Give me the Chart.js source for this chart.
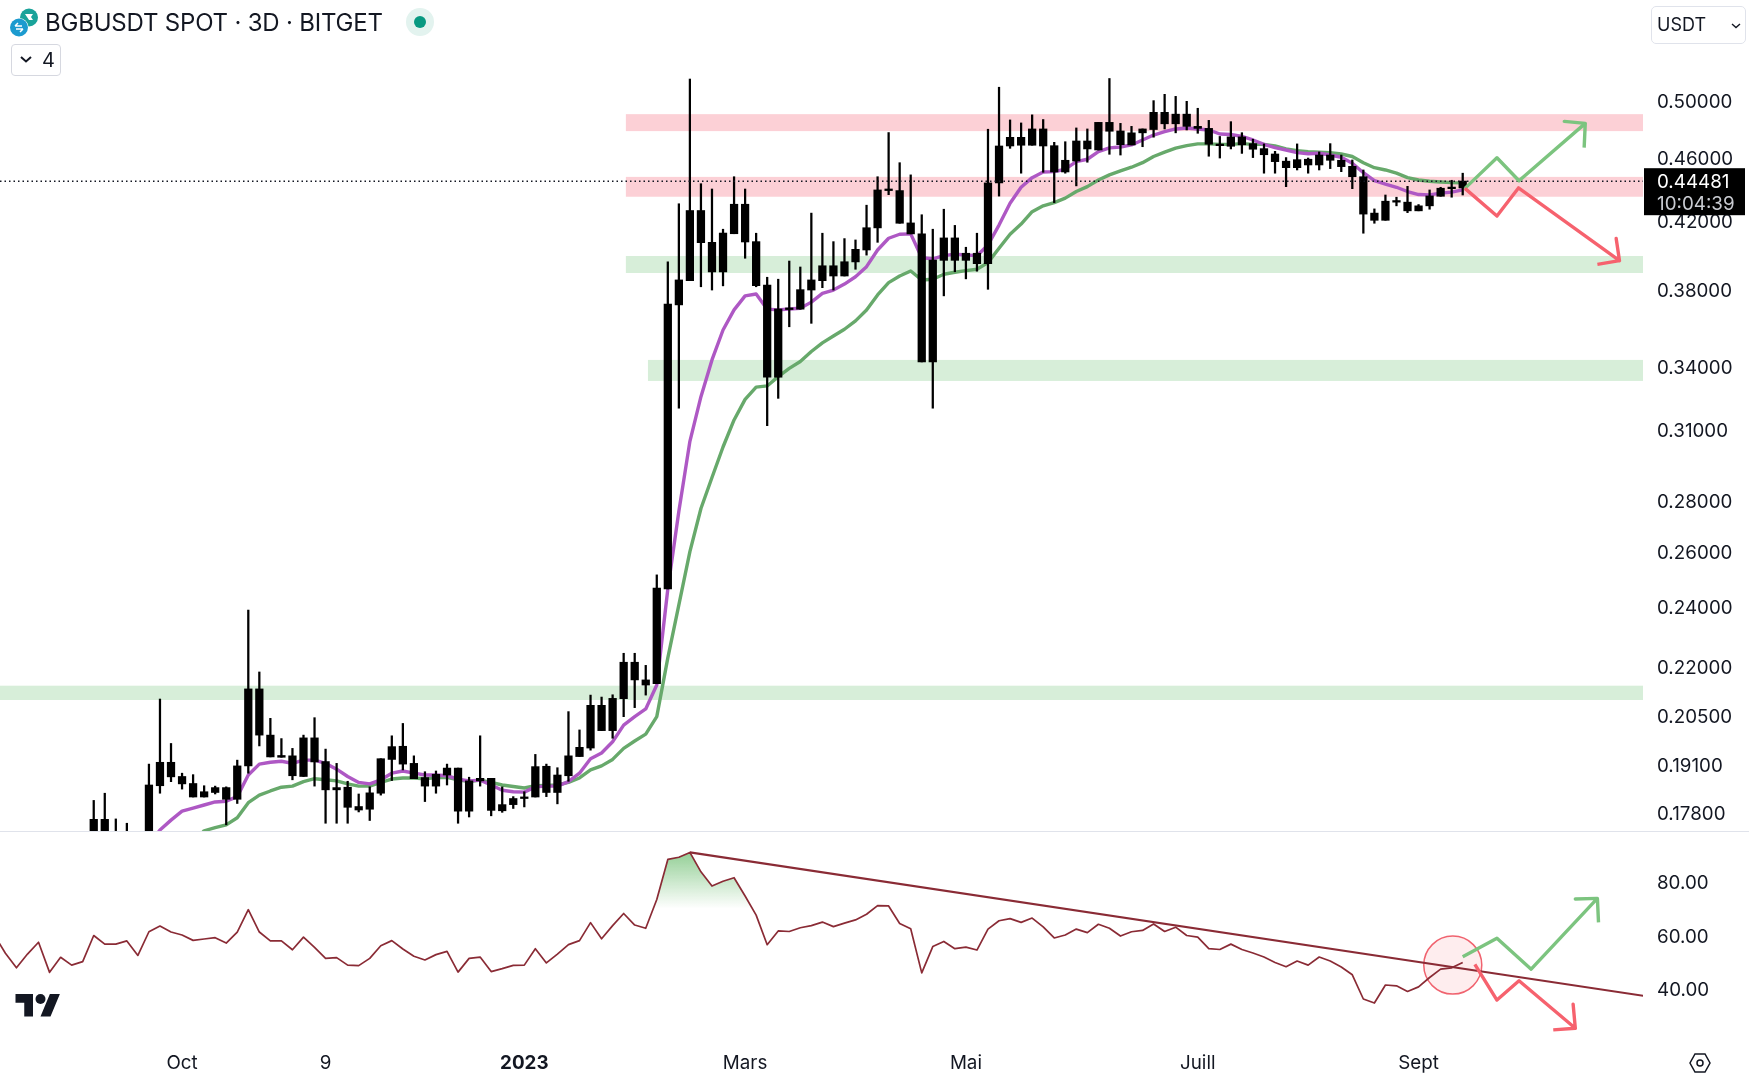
<!DOCTYPE html>
<html lang="fr">
<head>
<meta charset="utf-8">
<title>BGBUSDT SPOT 3D</title>
<script src="https://cdn.jsdelivr.net/npm/chart.js@4"></script>
<style>
    html, body { margin: 0; padding: 0; background: #fff; }
    body { position: relative; width: 1749px; height: 1080px; overflow: hidden; font-family: Inter, "Noto Sans", sans-serif; color: #131722; }
    canvas { position: absolute; left: 0; }
    #price-chart { top: 0; }
    #rsi-chart { top: 832px; }
    #separator { position: absolute; left: 0; top: 831px; width: 1749px; height: 1px; background: #e0e3eb; }
    #title { position: absolute; left: 45px; top: 8px; font-size: 24px; line-height: 30px; white-space: nowrap; letter-spacing: -0.2px; }
    #logos, #status, #logo-tv, #gear { position: absolute; }
    #logos { left: 8px; top: 6px; }
    #status { left: 406px; top: 8px; }
    #badge { position: absolute; left: 11px; top: 44px; width: 48px; height: 30px; border: 1px solid #d6d8e0; border-radius: 4px; font-size: 20px; line-height: 30px; }
    #badge span { position: absolute; left: 30px; }
    #badge svg { position: absolute; left: 7px; top: 10px; }
    #currency { position: absolute; left: 1651px; top: 6px; width: 93px; height: 36px; border: 1px solid #e0e3eb; border-radius: 5px; font-size: 18px; line-height: 36px; }
    #currency span { position: absolute; left: 5px; }
    #currency svg { position: absolute; left: 78px; top: 15px; }
    #logo-tv { left: 15px; top: 994px; }
    #gear { left: 1688px; top: 1051px; }
</style>
</head>
<body>
<canvas id="price-chart" width="1749" height="831"></canvas>
<div id="separator"></div>
<canvas id="rsi-chart" width="1749" height="248"></canvas>

<svg id="logos" width="34" height="32" viewBox="0 0 34 32">
    <circle cx="21" cy="11.5" r="9" fill="#1aa39a"/>
    <path d="M17 8h8l-2 3 2 3h-4z" fill="#fff"/>
    <circle cx="11" cy="21.5" r="9.5" fill="#fff"/>
    <circle cx="11" cy="21.5" r="9" fill="#1c9bcf"/>
    <path d="M7 20l3-3M7 20h7M15 23l-3 3M15 23H8" stroke="#fff" stroke-width="1.5" fill="none"/>
</svg>
<div id="title">BGBUSDT SPOT · 3D · BITGET</div>
<svg id="status" width="28" height="28" viewBox="0 0 28 28">
    <circle cx="14" cy="14" r="14" fill="#e3f3ef"/>
    <circle cx="14" cy="14" r="6" fill="#089981"/>
</svg>
<div id="badge">
    <svg width="14" height="9" viewBox="0 0 14 9"><path d="M2 2l5 4.5L12 2" stroke="#131722" stroke-width="2" fill="none"/></svg>
    <span>4</span>
</div>
<div id="currency">
    <span>USDT</span>
    <svg width="12" height="8" viewBox="0 0 12 8"><path d="M2 2l4 3.5L10 2" stroke="#131722" stroke-width="1.4" fill="none"/></svg>
</div>
<svg id="logo-tv" width="46" height="25" viewBox="0 0 36 20">
    <path d="M14 18H7V7H0V0h14zM28 18h-8l7.5-18h8z" fill="#131722"/>
    <circle cx="20" cy="4" r="4" fill="#131722"/>
</svg>
<svg id="gear" width="24" height="24" viewBox="0 0 24 24">
    <path d="M7 3h10l5 9-5 9H7l-5-9z" fill="none" stroke="#131722" stroke-width="1.5"/>
    <circle cx="12" cy="12" r="3" fill="none" stroke="#131722" stroke-width="1.5"/>
</svg>

<script>
// Bougies 3D, index 0 = première bougie visible
const wickHigh = [
    .1813,.1832,.1765,.1754,.1725,.1911,.2100,.1969,.1886,.1882,
    .1852,.1851,.1849,.1922,.2389,.2184,.2042,.1983,.1955,.1993,
    .2044,.1953,.1913,.1864,.1830,.1849,.1926,.1991,.2027,.1934,
    .1890,.1892,.1911,.1900,.1875,.1991,.1872,.1849,.1823,.1836,
    .1938,.1911,.1901,.2062,.2008,.2112,.2106,.2113,.2244,.2244,
    .2205,.2514,.3957,.4305,.5158,.4432,.4398,.4149,.4477,.4398,
    .4125,.3870,.3859,.3962,.3928,.4247,.4125,.4075,.4093,.4085,
    .4296,.4477,.4773,.4569,.4489,.4237,.4149,.4271,.4172,.4042,
    .4125,.4796,.5097,.4861,.4840,.4897,.4864,.4706,.4710,.4805,
    .4798,.4844,.5162,.4837,.4816,.4798,.4999,.5045,.5030,.4994,
    .4944,.4858,.4746,.4849,.4772,.4727,.4695,.4645,.4603,.4695,
    .4600,.4641,.4697,.4620,.4587,.4521,.4273,.4360,.4346,.4415,
    .4300,.4392,.4409,.4454,.4500
];
const bodyTop = [
    .1764,.1764,.1724,.1720,.1700,.1854,.1916,.1916,.1877,.1858,
    .1836,.1847,.1847,.1906,.2131,.2131,.1993,.1935,.1934,.1985,
    .1985,.1918,.1847,.1848,.1797,.1833,.1926,.1960,.1961,.1913,
    .1874,.1883,.1900,.1900,.1865,.1872,.1872,.1802,.1818,.1822,
    .1904,.1905,.1881,.1934,.1958,.2081,.2081,.2102,.2215,.2215,
    .2159,.2466,.3722,.3855,.4263,.4263,.4071,.4126,.4302,.4302,
    .4075,.3827,.3696,.3700,.3801,.3855,.3935,.3935,.3958,.4030,
    .4158,.4392,.4394,.4388,.4187,.4121,.3968,.4097,.4097,.4007,
    .4007,.4437,.4681,.4740,.4740,.4798,.4798,.4683,.4585,.4715,
    .4715,.4844,.4844,.4784,.4771,.4798,.4915,.4915,.4902,.4902,
    .4816,.4802,.4690,.4743,.4743,.4697,.4663,.4627,.4579,.4589,
    .4592,.4620,.4620,.4585,.4545,.4477,.4247,.4321,.4321,.4315,
    .4292,.4354,.4403,.4409,.4449
];
const bodyBottom = [
    .1712,.1712,.1700,.1700,.1690,.1712,.1852,.1876,.1857,.1822,
    .1822,.1834,.1816,.1816,.1906,.1993,.1931,.1930,.1879,.1877,
    .1917,.1841,.1841,.1795,.1788,.1790,.1832,.1924,.1911,.1871,
    .1851,.1851,.1881,.1785,.1785,.1865,.1787,.1786,.1802,.1818,
    .1822,.1834,.1834,.1879,.1932,.1956,.2006,.2006,.2101,.2159,
    .2143,.2147,.2463,.3718,.3851,.4069,.3900,.3900,.4122,.4073,
    .3823,.3348,.3348,.3693,.3695,.3799,.3851,.3877,.3877,.3957,
    .4026,.4157,.4388,.4185,.4121,.3423,.3423,.3966,.3966,.3966,
    .3947,.3947,.4437,.4681,.4686,.4686,.4681,.4508,.4508,.4580,
    .4661,.4654,.4782,.4690,.4688,.4771,.4794,.4834,.4834,.4816,
    .4802,.4693,.4683,.4679,.4689,.4659,.4622,.4576,.4536,.4536,
    .4554,.4554,.4585,.4543,.4477,.4241,.4203,.4203,.4315,.4261,
    .4261,.4292,.4352,.4400,.4405
];
const wickLow = [
    .1700,.1700,.1690,.1680,.1680,.1700,.1832,.1863,.1843,.1822,
    .1822,.1830,.1750,.1805,.1886,.1962,.1931,.1930,.1868,.1877,
    .1851,.1754,.1754,.1754,.1783,.1761,.1827,.1866,.1895,.1871,
    .1810,.1832,.1854,.1754,.1770,.1851,.1773,.1782,.1792,.1796,
    .1822,.1823,.1804,.1864,.1932,.1950,.2006,.1984,.2047,.2074,
    .2112,.2147,.2463,.3201,.3851,.3817,.3799,.3822,.4122,.3978,
    .3817,.3121,.3247,.3602,.3695,.3620,.3812,.3799,.3877,.3915,
    .3996,.4071,.4362,.4185,.4121,.3423,.3201,.3767,.3901,.3861,
    .3904,.3803,.4353,.4665,.4500,.4686,.4506,.4312,.4500,.4418,
    .4572,.4654,.4625,.4620,.4688,.4676,.4741,.4798,.4771,.4791,
    .4768,.4612,.4600,.4661,.4631,.4603,.4500,.4500,.4413,.4521,
    .4500,.4521,.4530,.4510,.4400,.4125,.4185,.4203,.4292,.4250,
    .4261,.4271,.4352,.4346,.4360
];

// Moyennes mobiles (violette à partir de la bougie 5, verte à partir de la bougie 9)
const purpleFirstIndex = 5;
const purpleValues = [
    .1700,.1737,.1762,.1785,.1793,.1801,.1809,.1811,.1823,.1881,
    .1911,.1916,.1919,.1913,.1922,.1922,.1913,.1897,.1877,.1861,
    .1857,.1868,.1886,.1892,.1886,.1881,.1881,.1879,.1870,.1865,
    .1867,.1854,.1840,.1836,.1835,.1849,.1851,.1851,.1863,.1886,
    .1926,.1942,.1974,.2022,.2047,.2070,.2143,.2463,.2757,.3051,
    .3255,.3433,.3585,.3691,.3767,.3777,.3695,.3691,.3696,.3700,
    .3733,.3781,.3799,.3832,.3873,.3930,.4026,.4095,.4119,.4121,
    .3981,.3975,.3993,.4001,.3997,.3993,.4055,.4174,.4308,.4409,
    .4471,.4508,.4510,.4526,.4576,.4592,.4643,.4668,.4674,.4688,
    .4722,.4756,.4779,.4798,.4805,.4798,.4791,.4763,.4760,.4746,
    .4722,.4692,.4670,.4654,.4636,.4629,.4632,.4620,.4605,.4565,
    .4503,.4451,.4430,.4409,.4382,.4363,.4361,.4372,.4378,.4392
];
const greenFirstIndex = 9;
const greenValues = [
    .1705,.1735,.1743,.1750,.1768,.1807,.1827,.1838,.1848,.1851,
    .1863,.1871,.1868,.1865,.1857,.1851,.1851,.1861,.1870,.1873,
    .1873,.1871,.1874,.1875,.1868,.1863,.1867,.1861,.1854,.1850,
    .1846,.1852,.1853,.1854,.1861,.1873,.1895,.1906,.1924,.1955,
    .1976,.1996,.2047,.2229,.2407,.2600,.2768,.2895,.3026,.3147,
    .3242,.3300,.3306,.3351,.3391,.3425,.3475,.3519,.3554,.3589,
    .3633,.3691,.3772,.3840,.3877,.3905,.3855,.3859,.3887,.3898,
    .3907,.3915,.3953,.4036,.4119,.4180,.4256,.4292,.4312,.4340,
    .4382,.4413,.4456,.4489,.4515,.4539,.4569,.4610,.4639,.4666,
    .4683,.4695,.4695,.4692,.4692,.4697,.4692,.4692,.4681,.4661,
    .4649,.4643,.4639,.4636,.4627,.4610,.4569,.4536,.4521,.4500,
    .4471,.4456,.4448,.4443,.4439,.4437
];

// RSI, démarre 9 bougies avant l'index 0
const rsiFirstIndex = -9;
const rsiValues = [
    60.2,53.4,48.0,53.1,57.5,46.3,51.9,49.0,50.3,
    60.0,56.8,56.8,58.0,52.6,61.4,63.5,61.3,60.2,58.2,
    58.7,59.2,57.2,61.3,69.6,61.3,58.0,58.0,54.7,59.4,
    55.6,51.5,51.8,49.0,48.8,51.5,56.2,58.1,55.0,52.3,
    50.9,52.9,54.1,46.4,51.5,52.0,46.6,47.7,48.9,49.0,
    55.1,49.8,53.1,56.6,58.1,64.8,58.8,63.7,68.2,63.9,
    62.7,73.4,88.3,89.1,90.9,83.7,78.4,80.2,81.5,74.7,
    67.6,56.6,61.7,61.5,62.9,63.7,65.0,63.3,64.6,65.8,
    67.9,71.1,71.0,64.5,62.5,46.1,55.9,57.8,55.1,55.7,
    54.6,62.4,65.5,66.3,64.9,66.5,63.2,59.1,60.2,62.4,
    61.1,64.2,62.7,59.8,61.4,61.9,64.3,61.5,63.1,60.0,
    59.4,55.1,54.8,56.8,54.8,53.5,52.0,50.0,48.4,50.5,
    49.0,52.0,50.5,48.3,45.4,36.4,34.9,41.6,41.3,39.2,
    40.9,44.4,47.5,48.0,50.0
];

// Axes
const priceTicks = [0.5, 0.46, 0.42, 0.38, 0.34, 0.31, 0.28, 0.26, 0.24, 0.22, 0.205, 0.191, 0.178];
const rsiTicks = [80, 60, 40];
const xTickIndex = [8, 21, 39, 59, 79, 100, 120];
const xTickLabels = ["Oct", "9", "2023", "Mars", "Mai", "Juill", "Sept"];
const xMin = -8.49, xMax = 140.33;
const priceMin = 0.17344, priceMax = 0.5784;
const rsiMin = 21.15, rsiMax = 98.5;
const rsiThreshold = 70;

const currentPrice = 0.44481;
const countdown = "10:04:39";

// Zones horizontales : [index de départ, bas, haut]
const pinkZones = [[48.2, 0.4783, 0.4902], [48.2, 0.4349, 0.4476]];
const greenZones = [[48.2, 0.3894, 0.3991], [50.2, 0.3330, 0.3433], [xMin, 0.2097, 0.2141]];

// Dessins (flèche = trajet, pointe, branche, pointe, branche)
const priceUpX = [124.2, 127.1, 129.1, 135.1, 133.2, 135.1, 135.0];
const priceUpY = [.4402, .4602, .4451, .4837, .4851, .4837, .4670];
const priceDownX = [124.2, 127.1, 129.05, 138.2, 137.9, 138.2, 136.2];
const priceDownY = [.4402, .4229, .4405, .3964, .4094, .3964, .3943];
const rsiUpX = [124.0, 127.1, 130.2, 136.2, 134.2, 136.2, 136.3];
const rsiUpY = [52.1, 59.0, 47.5, 73.8, 73.6, 73.8, 64.9];
const rsiDownX = [125.1, 127.1, 129.1, 134.2, 134.0, 134.2, 132.2];
const rsiDownY = [49.3, 36.0, 43.2, 25.5, 34.5, 25.5, 24.9];
const trendX = [54, 140.5];
const trendY = [90.9, 37.5];
const circleIndex = 123.1, circleRsi = 49.0, circleRadius = 29;

const AXIS_WIDTH = 106;
const TEXT_COLOR = "#131722";
const ARROW_GREEN = "#7cc47f";
const ARROW_RED = "#f6626e";
const RSI_COLOR = "#8a2b35";

Chart.defaults.font.family = "Inter, 'Noto Sans', sans-serif";
Chart.defaults.font.size = 18.8;
Chart.defaults.color = TEXT_COLOR;
Chart.defaults.animation = false;

function toPoints(xs, ys) {
    return xs.map((x, i) => ({ x: x, y: ys[i] }));
}

function fromIndex(values, first) {
    return values.map((v, i) => ({ x: i + first, y: v }));
}

function lineDataset(data, color, width, order, extra) {
    return Object.assign({
        type: "line",
        data: data,
        borderColor: color,
        borderWidth: width,
        pointRadius: 0,
        tension: 0,
        fill: false,
        borderJoinStyle: "round",
        order: order
    }, extra || {});
}

// Pas de marges automatiques autour des axes : la zone de tracé remplit le canvas
function noScalePadding(scale) {
    scale.paddingTop = 0;
    scale.paddingBottom = 0;
    scale.paddingLeft = 0;
    scale.paddingRight = 0;
}

// Zones colorées, placées avec les échelles du graphique
const zonesPlugin = {
    id: "zones",
    beforeDatasetsDraw(chart) {
        const { ctx, scales, chartArea } = chart;
        const paint = (zones, color) => {
            zones.forEach(([start, low, high]) => {
                const left = scales.x.getPixelForValue(start);
                const top = scales.y.getPixelForValue(high);
                const bottom = scales.y.getPixelForValue(low);
                ctx.fillStyle = color;
                ctx.fillRect(left, top, chartArea.right - left, bottom - top);
            });
        };
        paint(pinkZones, "#fcd0d6");
        paint(greenZones, "#d7eed9");
    }
};

// Étiquette du dernier prix
const priceTagPlugin = {
    id: "priceTag",
    afterDraw(chart) {
        const { ctx, scales, chartArea } = chart;
        const y = scales.y.getPixelForValue(currentPrice);
        ctx.save();
        ctx.fillStyle = "#000";
        ctx.fillRect(chartArea.right + 1, y - 13, 101, 47);
        ctx.textAlign = "left";
        ctx.textBaseline = "middle";
        ctx.font = "18.8px Inter, 'Noto Sans', sans-serif";
        ctx.fillStyle = "#fff";
        ctx.fillText(currentPrice.toFixed(5), chartArea.right + 14, y + 1);
        ctx.fillStyle = "#c9cbd1";
        ctx.fillText(countdown, chartArea.right + 14, y + 23);
        ctx.restore();
    }
};

const candleX = wickHigh.map((_, i) => i);

new Chart(document.getElementById("price-chart").getContext("2d"), {
    type: "bar",
    data: {
        datasets: [
            lineDataset([{ x: xMin, y: currentPrice }, { x: xMax, y: currentPrice }], "#131722", 1.5, 0, { borderDash: [1.5, 3] }),
            lineDataset(toPoints(priceUpX, priceUpY), ARROW_GREEN, 3.4, -1),
            lineDataset(toPoints(priceDownX, priceDownY), ARROW_RED, 3.4, -2),
            lineDataset(fromIndex(purpleValues, purpleFirstIndex), "#ae58c4", 3.4, 4),
            lineDataset(fromIndex(greenValues, greenFirstIndex), "#67a96b", 3.4, 5),
            {
                data: candleX.map(i => ({ x: i, y: [wickLow[i], wickHigh[i]] })),
                backgroundColor: "#000",
                barThickness: 1.6,
                grouped: false,
                order: 3
            },
            {
                data: candleX.map(i => ({ x: i, y: [bodyBottom[i], bodyTop[i]] })),
                backgroundColor: "#000",
                barThickness: 7.6,
                minBarLength: 1.6,
                grouped: false,
                order: 2
            }
        ]
    },
    options: {
        responsive: false,
        layout: { padding: 0, autoPadding: false },
        plugins: { legend: { display: false }, tooltip: { enabled: false } },
        scales: {
            x: { type: "linear", display: false, offset: false, min: xMin, max: xMax },
            y: {
                type: "logarithmic",
                position: "right",
                min: priceMin,
                max: priceMax,
                grid: { display: false },
                border: { display: false },
                afterFit(scale) { scale.width = AXIS_WIDTH; noScalePadding(scale); },
                afterBuildTicks(scale) { scale.ticks = priceTicks.map(v => ({ value: v })); },
                ticks: {
                    autoSkip: false,
                    padding: 6,
                    labelOffset: 1.5,
                    callback: v => v.toFixed(5)
                }
            }
        }
    },
    plugins: [zonesPlugin, priceTagPlugin]
});

const rsiChart = new Chart(document.getElementById("rsi-chart").getContext("2d"), {
    type: "line",
    data: {
        datasets: [
            lineDataset(toPoints(rsiUpX, rsiUpY), ARROW_GREEN, 3.4, -1),
            lineDataset(toPoints(rsiDownX, rsiDownY), ARROW_RED, 3.4, -2),
            lineDataset(toPoints(trendX, trendY), RSI_COLOR, 2.2, 1),
            lineDataset(fromIndex(rsiValues, rsiFirstIndex), RSI_COLOR, 1.7, 2),
            {
                type: "bubble",
                data: [{ x: circleIndex, y: circleRsi, r: circleRadius }],
                backgroundColor: "rgba(242, 54, 69, 0.09)",
                borderColor: "#f0636f",
                borderWidth: 1.5,
                order: 3
            }
        ]
    },
    options: {
        responsive: false,
        layout: { padding: 0, autoPadding: false },
        plugins: { legend: { display: false }, tooltip: { enabled: false } },
        scales: {
            x: {
                type: "linear",
                min: xMin,
                max: xMax,
                grid: { display: false },
                border: { display: false },
                afterFit(scale) { scale.height = 40; noScalePadding(scale); },
                afterBuildTicks(scale) { scale.ticks = xTickIndex.map(v => ({ value: v })); },
                ticks: {
                    autoSkip: false,
                    maxRotation: 0,
                    padding: 4,
                    font: ctx => ({ size: 18.8, weight: ctx.tick && ctx.tick.value === 39 ? "700" : "400" }),
                    callback: v => xTickLabels[xTickIndex.indexOf(v)]
                }
            },
            y: {
                position: "right",
                min: rsiMin,
                max: rsiMax,
                grid: { display: false },
                border: { display: false },
                afterFit(scale) { scale.width = AXIS_WIDTH; noScalePadding(scale); },
                afterBuildTicks(scale) { scale.ticks = rsiTicks.map(v => ({ value: v })); },
                ticks: {
                    autoSkip: false,
                    padding: 6,
                    labelOffset: 1.5,
                    callback: v => v.toFixed(2)
                }
            }
        }
    }
});

// Dégradé vert de la zone de surachat, il dépend des échelles
const rsiScale = rsiChart.scales.y;
const overbought = rsiChart.ctx.createLinearGradient(0, rsiScale.getPixelForValue(90.9), 0, rsiScale.getPixelForValue(rsiThreshold));
overbought.addColorStop(0, "rgba(76, 175, 80, 0.6)");
overbought.addColorStop(1, "rgba(76, 175, 80, 0)");
rsiChart.data.datasets[3].fill = { value: rsiThreshold, above: overbought, below: "rgba(0, 0, 0, 0)" };
rsiChart.update("none");
</script>
</body>
</html>
